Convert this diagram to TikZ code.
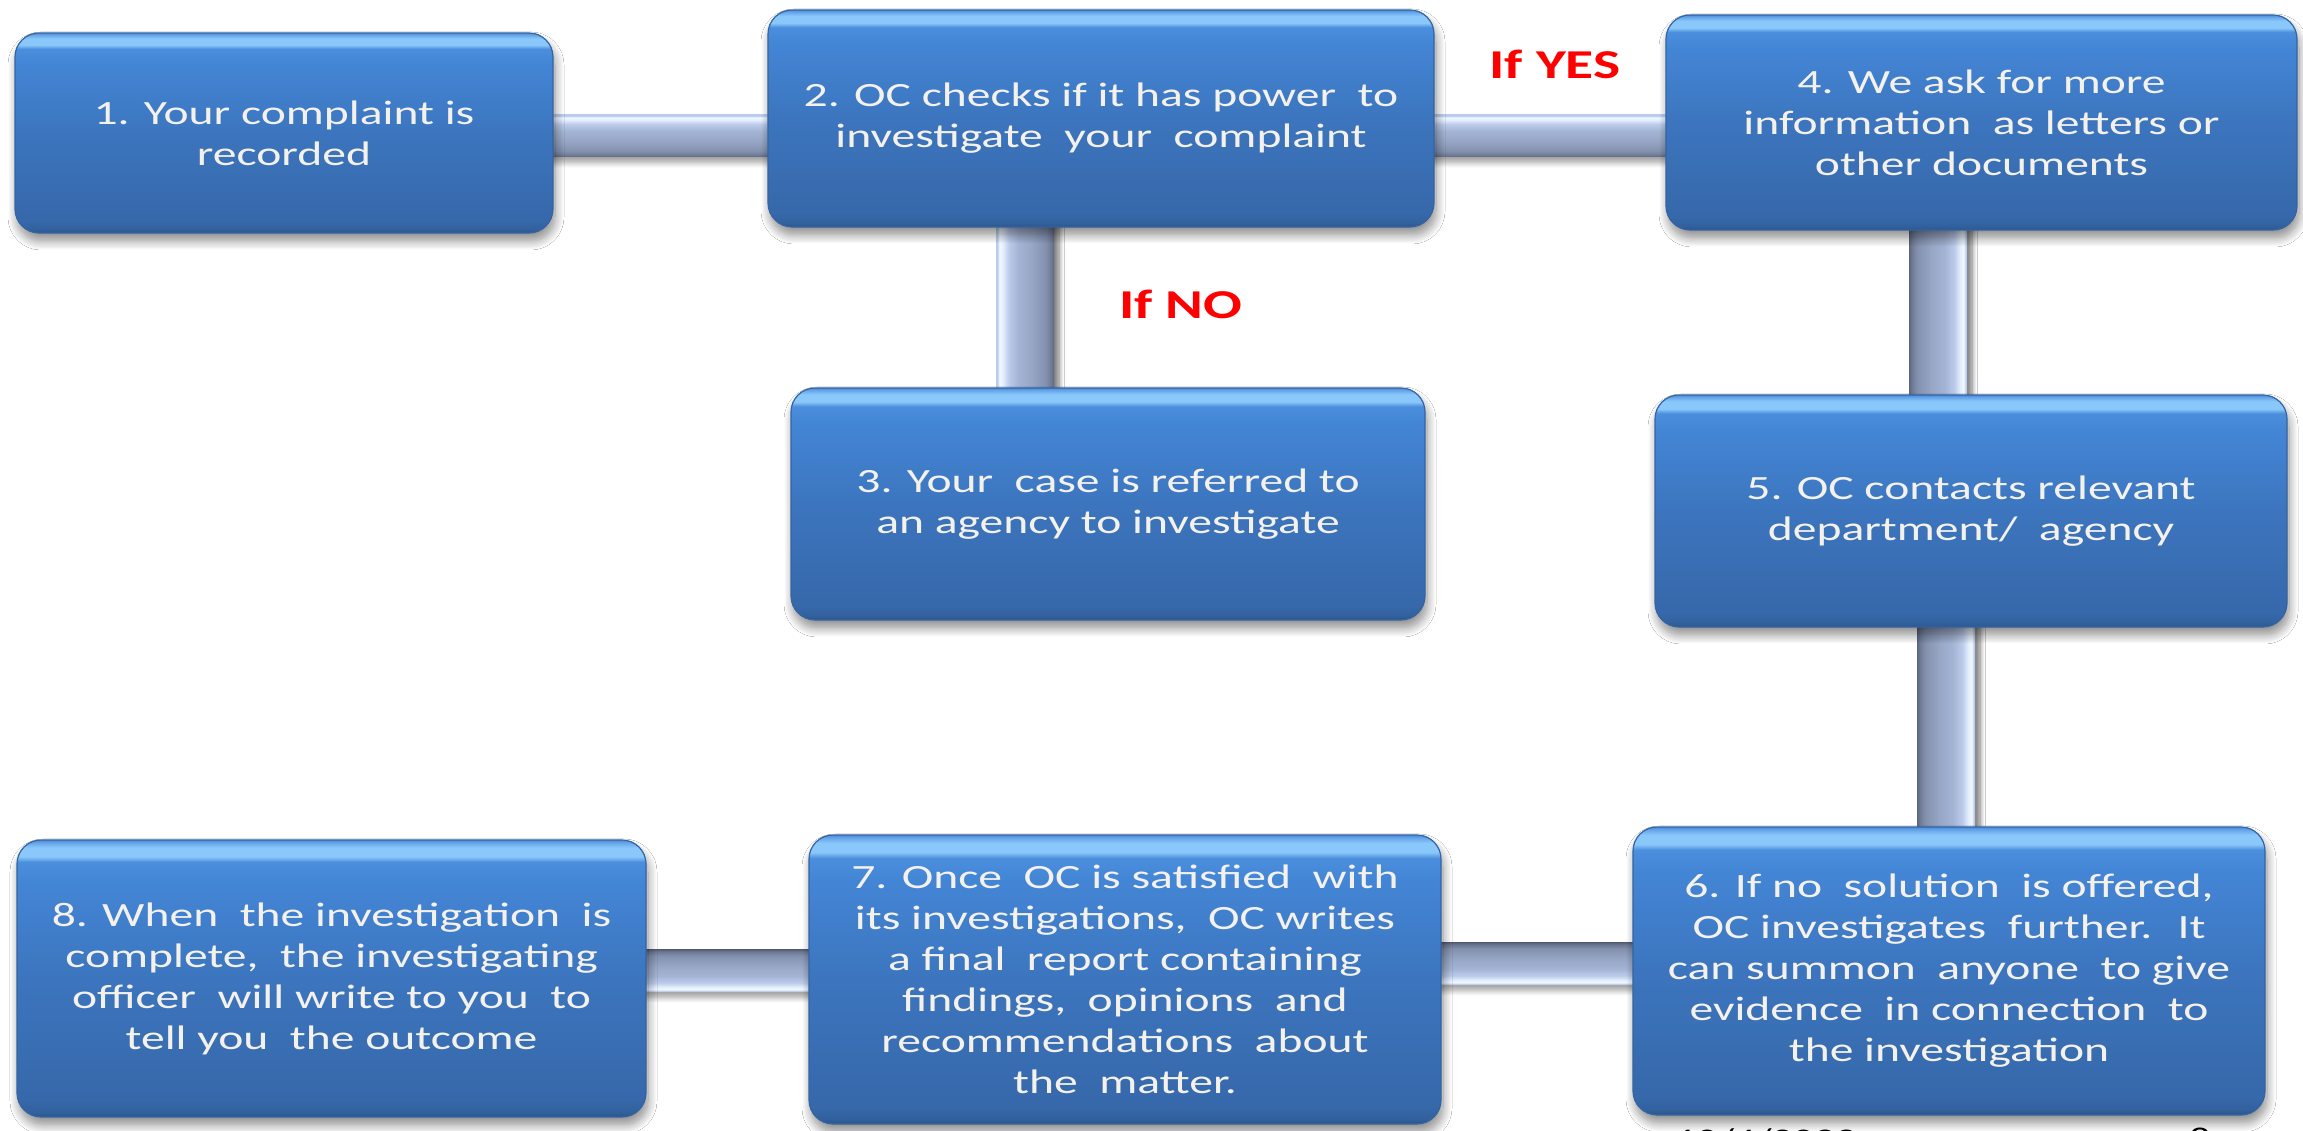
\documentclass[tikz,border=0pt]{standalone}
\usepackage{fontspec}
\setmainfont{Carlito}[FakeStretch=1.4]
\usetikzlibrary{calc,shadows.blur}

% box and pipe colours
\definecolor{bxedgeb}{HTML}{2C5388}
\definecolor{bxlow}{HTML}{31609C}
\definecolor{bxbot}{HTML}{3668AA}
\definecolor{bxmid}{HTML}{3C75BE}
\definecolor{bxtop}{HTML}{4385D5}
\definecolor{bxupper}{HTML}{4A8EDD}
\definecolor{bxhl}{HTML}{8AC7FA}
\definecolor{bxhlb}{HTML}{6AAAEC}
\definecolor{bxedget}{HTML}{4F8DD9}
\definecolor{bxline}{HTML}{3464A3}
\definecolor{txt}{HTML}{F4F1EA}

\definecolor{pp1}{HTML}{5A657E}
\definecolor{pp2}{HTML}{6C7892}
\definecolor{pp3}{HTML}{8391AF}
\definecolor{pp4}{HTML}{97A6C5}
\definecolor{pp5}{HTML}{A4B4D4}
\definecolor{pp6}{HTML}{BCCBEA}
\definecolor{pp7}{HTML}{E2EDFD}
\definecolor{pp8}{HTML}{F2F8FF}
\definecolor{pp9}{HTML}{B9CCEC}

% rounded step box: dark lower edge, light strip under the top edge
\pgfdeclareverticalshading{boxshade}{100bp}{%
  color(0bp)=(bxedgeb); color(25bp)=(bxedgeb); color(25.8bp)=(bxlow);
  color(28bp)=(bxbot); color(50bp)=(bxmid); color(67bp)=(bxtop);
  color(71bp)=(bxupper); color(72bp)=(bxhl); color(73.6bp)=(bxhl);
  color(74.4bp)=(bxhlb); color(75bp)=(bxedget); color(100bp)=(bxedget)}

% glassy tube: bright side on top, dark side below
\pgfdeclareverticalshading{pipeshade}{100bp}{%
  color(0bp)=(pp1); color(25bp)=(pp1); color(27bp)=(pp2);
  color(32bp)=(pp3); color(44bp)=(pp4); color(56bp)=(pp5);
  color(64bp)=(pp6); color(69bp)=(pp7); color(72bp)=(pp8);
  color(74bp)=(pp9); color(75bp)=(pp9); color(100bp)=(pp9)}

\tikzset{
  stepbox/.style={rectangle, rounded corners=24pt, shading=boxshade,
    draw=bxline, line width=1.2pt, text=txt, align=center, inner sep=0pt,
    font=\fontsize{34}{41}\selectfont,
    blur shadow={shadow xshift=2pt, shadow yshift=-8pt,
      shadow blur radius=9pt, shadow opacity=45, shadow blur steps=12}},
  pipe/.style={shading=pipeshade,
    blur shadow={shadow xshift=0pt, shadow yshift=-6pt,
      shadow blur radius=5pt, shadow opacity=35, shadow blur steps=8}},
  pipeup/.style={pipe, shading angle=0},
  pipedown/.style={pipe, shading angle=180},
  pipeleft/.style={pipe, shading angle=90,
    blur shadow={shadow xshift=5pt, shadow yshift=-2pt,
      shadow blur radius=5pt, shadow opacity=30, shadow blur steps=8}},
  piperight/.style={pipe, shading angle=270,
    blur shadow={shadow xshift=5pt, shadow yshift=-2pt,
      shadow blur radius=5pt, shadow opacity=30, shadow blur steps=8}},
  branch/.style={text=red, font=\fontsize{41}{41}\selectfont\bfseries, inner sep=0pt},
  footer/.style={text=black, font=\fontsize{30}{30}\selectfont, inner sep=0pt, anchor=north}
}

\begin{document}
\begin{tikzpicture}[x=1pt,y=1pt]
\useasboundingbox (0,0) rectangle (2303,1131);
\fill[white] (0,0) rectangle (2303,1131);

% tube axes
\coordinate (h12) at (0,995);
\coordinate (v23) at (1025,0);
\coordinate (v45) at (1938,0);
\coordinate (v56) at (1946,0);
\coordinate (h67) at (0,167);
\coordinate (h78) at (0,160);

% step boxes (placed first so the tubes can refer to them, drawn again on top)
\path
  (284,998)     node[minimum width=538pt, minimum height=200pt] (b1) {}
  (1101,1012.5) node[minimum width=666pt, minimum height=217pt] (b2) {}
  (1108,627)    node[minimum width=634pt, minimum height=232pt] (b3) {}
  (1981.5,1008.5) node[minimum width=631pt, minimum height=215pt] (b4) {}
  (1971,620)    node[minimum width=632pt, minimum height=232pt] (b5) {}
  (1949,160)    node[minimum width=632pt, minimum height=288pt] (b6) {}
  (1125,151.5)  node[minimum width=632pt, minimum height=289pt] (b7) {}
  (331.5,152.5) node[minimum width=629pt, minimum height=277pt] (b8) {};

% tubes joining the steps
\path[pipeup]    ($(b1.east |- h12)+(-8,-21)$) rectangle ($(b2.west |- h12)+(8,21)$);
\path[pipeup]    ($(b2.east |- h12)+(-8,-21)$) rectangle ($(b4.west |- h12)+(8,21)$);
\path[pipeleft]  ($(b3.north -| v23)+(-29,-8)$) rectangle ($(b2.south -| v23)+(29,8)$);
\path[piperight] ($(b5.north -| v45)+(-29,-8)$) rectangle ($(b4.south -| v45)+(29,8)$);
\path[piperight] ($(b6.north -| v56)+(-29,-8)$) rectangle ($(b5.south -| v56)+(29,8)$);
\path[pipedown]  ($(b7.east |- h67)+(-8,-21)$) rectangle ($(b6.west |- h67)+(8,21)$);
\path[pipedown]  ($(b8.east |- h78)+(-8,-21)$) rectangle ($(b7.west |- h78)+(8,21)$);

% step boxes with their texts
\node[stepbox, minimum width=538pt, minimum height=200pt] at (b1)
  {1. Your complaint is\\recorded};
\node[stepbox, minimum width=666pt, minimum height=217pt] at (b2)
  {2. OC checks if it has power~ to\\investigate~ your~ complaint};
\node[stepbox, minimum width=634pt, minimum height=232pt] at (b3)
  {3. Your~ case is referred to\\an agency to investigate};
\node[stepbox, minimum width=631pt, minimum height=215pt] at (b4)
  {4. We ask for more\\information~ as letters or\\other documents};
\node[stepbox, minimum width=632pt, minimum height=232pt] at (b5)
  {5. OC contacts relevant\\department/~ agency};
\node[stepbox, minimum width=632pt, minimum height=288pt] at (b6)
  {6. If no~ solution~ is offered,\\OC investigates~ further.~ It\\can summon~ anyone~ to give\\evidence~ in connection~ to\\the investigation};
\node[stepbox, minimum width=632pt, minimum height=289pt] at (b7)
  {7. Once~ OC is satisfied~ with\\its investigations,~ OC writes\\a final~ report containing\\findings,~ opinions~ and\\recommendations~ about\\the~ matter.};
\node[stepbox, minimum width=629pt, minimum height=277pt] at (b8)
  {8. When~ the investigation~ is\\complete,~ the investigating\\officer~ will write to you~ to\\tell you~ the outcome};

% branch labels
\node[branch] (yes) at (1555,1067) {If YES};
\node[branch] (no)  at (1181,827)  {If NO};

% slide footer, mostly below the lower edge
\node[footer] (date) at (1766,3) {10/4/2022};
\node[footer] (page) at (2200,3) {8};
\end{tikzpicture}
\end{document}
